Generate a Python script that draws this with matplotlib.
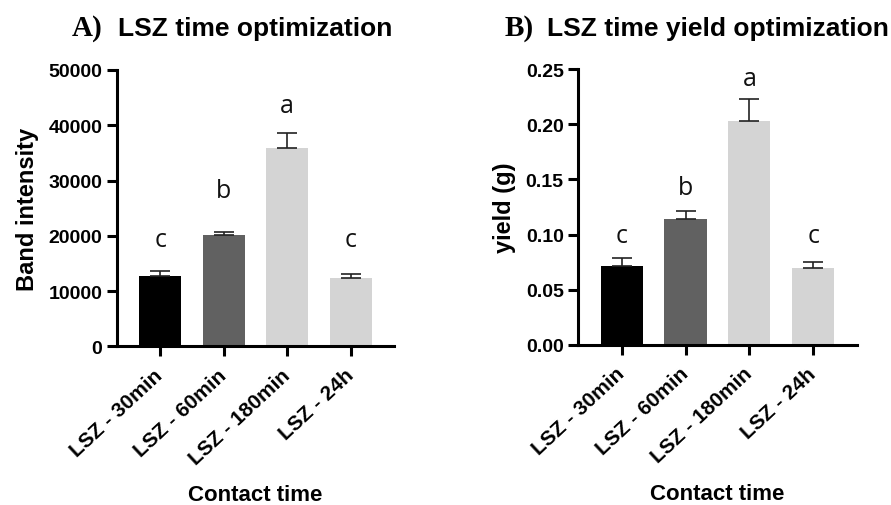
import matplotlib
matplotlib.use("Agg")
import matplotlib.pyplot as plt

categories = ["LSZ - 30min", "LSZ - 60min", "LSZ - 180min", "LSZ - 24h"]
band_mean = [12700, 20150, 35950, 12300]
band_err = [900, 600, 2600, 850]
yield_mean = [0.0717, 0.1138, 0.2031, 0.0693]
yield_err = [0.0067, 0.0079, 0.0199, 0.0060]
letters_a = ["c", "b", "a", "c"]
letters_a_y = [19400, 28200, 43500, 19400]
letters_b = ["c", "b", "a", "c"]
letters_b_y = [0.099, 0.143, 0.242, 0.099]
colors = ["#000000", "#616161", "#d4d4d4", "#d4d4d4"]

FONT = "Liberation Sans"
fig = plt.figure(figsize=(8.91, 5.06), dpi=100)

def panel(rect, means, errs, letters, letters_y, ymax, yticks, ticklabels, ylabel, tag, title, tag_x, title_x):
    ax = fig.add_axes(rect)
    x = list(range(len(categories)))
    ax.bar(x, means, width=0.66, color=colors, zorder=2)
    ax.errorbar(x, means, yerr=[[0] * len(errs), errs], fmt="none",
                ecolor="#222222", elinewidth=1.2, capsize=7.2, capthick=1.2, zorder=3)
    for xi, ly, l in zip(x, letters_y, letters):
        ax.text(xi, ly, l, ha="center", va="center",
                fontsize=18, family="Open Sans", color="#111111")
    ax.set_xlim(-0.68, 3.68)
    ax.set_ylim(0, ymax)
    ax.set_yticks(yticks)
    ax.set_yticklabels(ticklabels, fontsize=14, fontweight="bold", family=FONT)
    ax.set_xticks(x)
    ax.set_xticklabels(categories, rotation=43, ha="right", va="center",
                       rotation_mode="anchor", fontsize=15,
                       fontweight="bold", family=FONT)
    for s in ["top", "right"]:
        ax.spines[s].set_visible(False)
    for s in ["left", "bottom"]:
        ax.spines[s].set_linewidth(2.2)
    ax.tick_params(axis="both", direction="out", length=7.5, width=2.2)
    ax.tick_params(axis="x", pad=11)
    ax.tick_params(axis="y", pad=3)
    ax.set_ylabel(ylabel, fontsize=17, fontweight="bold", family=FONT, labelpad=7)
    ax.set_xlabel("Contact time", fontsize=16, fontweight="bold", family=FONT, labelpad=12)
    fig.text(tag_x, 0.943, tag, fontsize=21, fontweight="bold", family="Liberation Serif",
             ha="left", va="center")
    fig.text(title_x, 0.943, title, fontsize=19, fontweight="bold", family=FONT,
             ha="left", va="center")
    return ax

panel([0.1313, 0.3136, 0.3109, 0.5461], band_mean, band_err, letters_a, letters_a_y, 50000,
      [0, 10000, 20000, 30000, 40000, 50000],
      ["0", "10000", "20000", "30000", "40000", "50000"],
      "Band intensity", "A)", "LSZ time optimization", 72 / 891, 118 / 891)
panel([0.649, 0.3168, 0.3125, 0.5443], yield_mean, yield_err, letters_b, letters_b_y, 0.25,
      [0, 0.05, 0.10, 0.15, 0.20, 0.25],
      ["0.00", "0.05", "0.10", "0.15", "0.20", "0.25"],
      "yield (g)", "B)", "LSZ time yield optimization", 505 / 891, 547 / 891)

fig.savefig("out.png", dpi=100)
